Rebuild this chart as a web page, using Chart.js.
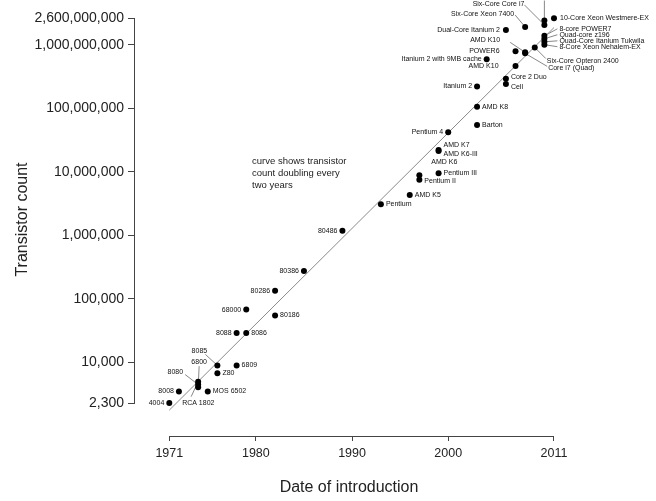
<!DOCTYPE html>
<html>
<head>
<meta charset="utf-8">
<script src="https://cdn.jsdelivr.net/npm/chart.js@4/dist/chart.umd.min.js"></script>
<style>
    html, body { margin: 0; padding: 0; background: #fff; }
    canvas { display: block; }
</style>
</head>
<body>
<canvas id="chart" width="656" height="501"></canvas>
<script>
// processors (year, transistor count)
var names = [
    "4004", "8008", "RCA 1802", "8080", "6800", "MOS 6502", "8085", "Z80", "6809",
    "8088", "8086", "68000", "80186", "80286", "80386", "80486",
    "Pentium", "AMD K5", "AMD K6", "Pentium II", "Pentium III", "AMD K7", "AMD K6-III",
    "Pentium 4", "Barton", "AMD K8", "Itanium 2", "Itanium 2 with 9MB cache",
    "Core 2 Duo", "Cell", "Dual-Core Itanium 2", "AMD K10", "POWER6", "AMD K10",
    "Core i7 (Quad)", "Six-Core Opteron 2400", "Six-Core Xeon 7400", "Six-Core Core i7",
    "16-Core SPARC T3", "8-core POWER7", "Quad-core z196", "Quad-Core Itanium Tukwila",
    "8-Core Xeon Nehalem-EX", "10-Core Xeon Westmere-EX"
];
var years = [
    1971, 1972, 1974, 1974, 1974, 1975, 1976, 1976, 1978,
    1978, 1979, 1979, 1982, 1982, 1985, 1989,
    1993, 1996, 1997, 1997, 1999, 1999, 1999,
    2000, 2003, 2003, 2003, 2004,
    2006, 2006, 2006, 2007, 2007, 2008,
    2008, 2009, 2008, 2010,
    2010, 2010, 2010, 2010,
    2010, 2011
];
var counts = [
    2300, 3500, 5000, 4500, 4100, 3510, 9000, 6800, 9000,
    29000, 29000, 68000, 55000, 134000, 275000, 1180000,
    3100000, 4300000, 8800000, 7500000, 9500000, 22000000, 21300000,
    42000000, 54300000, 105900000, 220000000, 592000000,
    291000000, 241000000, 1700000000, 463000000, 789000000, 758000000,
    731000000, 904000000, 1900000000, 2050000000,
    2400000000, 1380000000, 1240000000, 1110000000,
    1000000000, 2600000000
];

var yearTicks = [1971, 1980, 1990, 2000, 2011];
var countTicks = [2300, 10000, 100000, 1000000, 10000000, 100000000, 1000000000, 2600000000];

// the grey "doubling every two years" curve, its two ends
var trendYears = [1971, 2011];
var trendCounts = [1780, 1860000000];

var note = ["curve shows transistor", "count doubling every", "two years"];

// where each name sits next to its dot: dx, dy, align, and optional leader end
var labelLayout = [
    [-5, 0, "right"], [-5, 0, "right"], [-16, 21, "left", -7, 15], [-15, -12, "right", -13, -10],
    [1, -25, "center", 1, -21], [5, 0, "left"], [-18, -14, "center", -12, -11], [5, 0, "left"],
    [5, 0, "left"],
    [-5, 0, "right"], [5, 0, "left"], [-5, 0, "right"], [5, 0, "left"], [-5, 0, "right"],
    [-5, 0, "right"], [-5, 0, "right"],
    [5, 0, "left"], [5, 0, "left"], [12, -13, "left"], [5, 1, "left"], [5, 0, "left"],
    [5, -5, "left"], [5, 3, "left"],
    [-5, 0, "right"], [5, 0, "left"], [5, 0, "left"], [-5, 0, "right"], [-5, 0, "right"],
    [5, -2, "left"], [5, 3, "left"], [-6, 0, "right"], [-17, 0, "right"], [-16, 0, "right"],
    [-25, -12, "right", -15, -10],
    [23, 15, "left", 22, 13], [12, 14, "left", 11, 11], [-11, -13, "right", -10, -12],
    [-20, -21, "right", -20, -20],
    [0, -24, "center", 0, -20], [15, -7, "left", 13, -7], [15, -4, "left", 13, -4],
    [15, -1, "left", 13, -1],
    [15, 2, "left", 13, 2], [6, 0, "left"]
];

var FONT = "'Liberation Sans', Arial, sans-serif";

var pointData = [];
for (var i = 0; i < names.length; i++) {
    pointData.push({x: years[i], y: counts[i]});
}
var trendData = [];
for (var j = 0; j < trendYears.length; j++) {
    trendData.push({x: trendYears[j], y: trendCounts[j]});
}

var rangeFrame = {
    id: "rangeFrame",
    beforeDatasetsDraw: function (chart) {
        var area = chart.chartArea, x = chart.scales.x, y = chart.scales.y, c = chart.ctx;
        var ax = Math.round(area.left - 0.5) + 0.5;
        var ay = Math.round(area.bottom - 0.5) + 0.5;
        c.save();
        c.strokeStyle = "#444";
        c.lineWidth = 1;
        c.beginPath();
        c.moveTo(ax, Math.round(y.getPixelForValue(countTicks[countTicks.length - 1]) - 0.5));
        c.lineTo(ax, Math.round(y.getPixelForValue(countTicks[0]) - 0.5) + 1);
        c.moveTo(Math.round(x.getPixelForValue(yearTicks[0]) - 0.5), ay);
        c.lineTo(Math.round(x.getPixelForValue(yearTicks[yearTicks.length - 1]) - 0.5) + 1, ay);
        c.stroke();

        // leader lines, under the dots
        c.strokeStyle = "#555";
        c.lineWidth = 0.7;
        for (var i = 0; i < names.length; i++) {
            var p = labelLayout[i];
            if (p.length < 5) continue;
            var px = x.getPixelForValue(years[i]);
            var py = y.getPixelForValue(counts[i]);
            c.beginPath();
            c.moveTo(px, py);
            c.lineTo(px + p[3], py + p[4]);
            c.stroke();
        }

        // the note about the curve
        c.fillStyle = "#222";
        c.font = "9.5px " + FONT;
        c.textAlign = "left";
        c.textBaseline = "middle";
        var nx = x.getPixelForValue(1979.6);
        var ny = y.getPixelForValue(14500000);
        for (var k = 0; k < note.length; k++) {
            c.fillText(note[k], nx, ny + k * 12);
        }
        c.restore();
    },
    afterDatasetsDraw: function (chart) {
        var x = chart.scales.x, y = chart.scales.y, c = chart.ctx;
        c.save();
        c.fillStyle = "#111";
        c.font = "7px " + FONT;
        c.textBaseline = "middle";
        for (var i = 0; i < names.length; i++) {
            var p = labelLayout[i];
            c.textAlign = p[2];
            c.fillText(names[i], x.getPixelForValue(years[i]) + p[0], y.getPixelForValue(counts[i]) + p[1]);
        }
        c.restore();
    }
};

new Chart(document.getElementById("chart"), {
    type: "scatter",
    data: {
        datasets: [{
            data: pointData,
            backgroundColor: "#000",
            borderWidth: 0,
            pointRadius: 3,
            pointHoverRadius: 3,
            clip: false
        }, {
            data: trendData,
            showLine: true,
            borderColor: "#8a8a8a",
            borderWidth: 1,
            pointRadius: 0,
            clip: false
        }]
    },
    options: {
        responsive: false,
        animation: false,
        events: [],
        layout: { padding: { left: 0, right: 92, top: 0, bottom: 0 } },
        plugins: {
            legend: { display: false },
            tooltip: { enabled: false }
        },
        scales: {
            x: {
                type: "linear",
                bounds: "data",
                min: 1967.33,
                max: 2012.04,
                afterBuildTicks: function (s) {
                    s.ticks = yearTicks.map(function (v) { return {value: v}; });
                },
                afterFit: function (s) {
                    s.height = 65;
                    s.paddingLeft = 0;
                    s.paddingRight = 0;
                },
                grid: { drawOnChartArea: false, tickLength: 5, color: "#444" },
                border: { display: false },
                ticks: {
                    autoSkip: false,
                    maxRotation: 0,
                    padding: 5,
                    color: "#222",
                    font: { family: FONT, size: 12.5 },
                    callback: function (v) { return String(v); }
                },
                title: {
                    display: true,
                    text: "Date of introduction",
                    color: "#222",
                    font: { family: FONT, size: 16 },
                    padding: { top: 0, bottom: 3.4 }
                }
            },
            y: {
                type: "logarithmic",
                bounds: "data",
                min: 698,
                max: 4530000000,
                afterBuildTicks: function (s) {
                    s.ticks = countTicks.map(function (v) { return {value: v}; });
                },
                afterFit: function (s) {
                    s.width = 134;
                    s.paddingTop = 0;
                    s.paddingBottom = 0;
                },
                grid: { drawOnChartArea: false, tickLength: 6, color: "#444" },
                border: { display: false },
                ticks: {
                    autoSkip: false,
                    padding: 4,
                    color: "#222",
                    font: { family: FONT, size: 14 },
                    callback: function (v) { return Number(v).toLocaleString("en-US"); }
                },
                title: {
                    display: true,
                    text: "Transistor count",
                    color: "#222",
                    font: { family: FONT, size: 16 },
                    padding: { top: 13.4, bottom: 0 }
                }
            }
        }
    },
    plugins: [rangeFrame]
});
</script>
</body>
</html>
